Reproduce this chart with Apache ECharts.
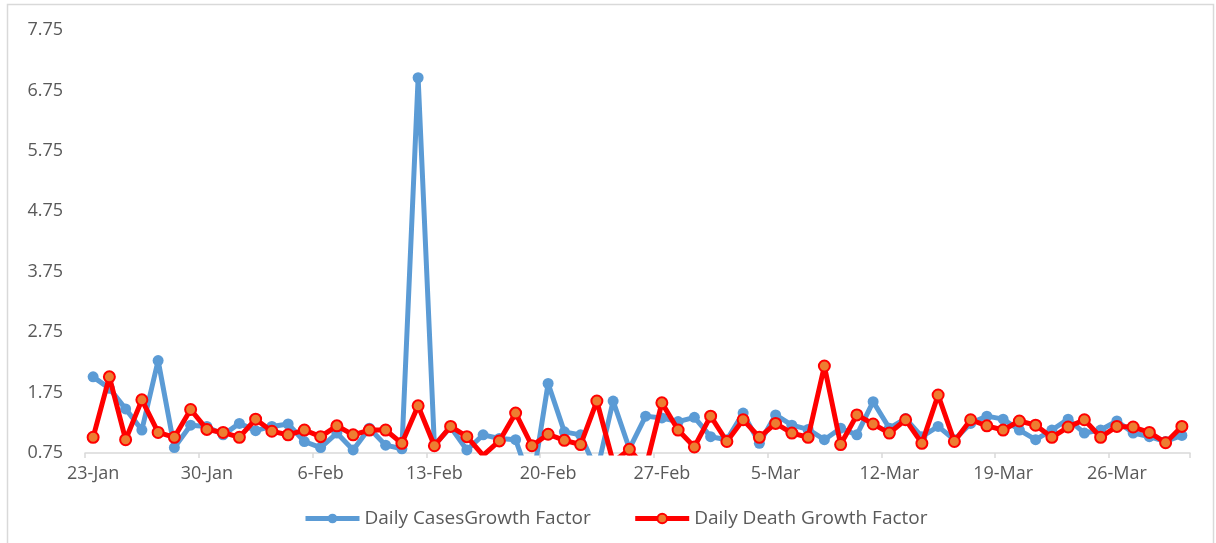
<!DOCTYPE html>
<html>
<head>
<meta charset="utf-8">
<script src="https://cdn.jsdelivr.net/npm/echarts@6/dist/echarts.min.js"></script>
<style>
html,body{margin:0;padding:0;background:#fff;}
#chart{width:1216px;height:543px;}
</style>
</head>
<body>
<div id="chart"></div>
<script>
const categories = [
  "23-Jan","24-Jan","25-Jan","26-Jan","27-Jan","28-Jan","29-Jan","30-Jan","31-Jan",
  "1-Feb","2-Feb","3-Feb","4-Feb","5-Feb","6-Feb","7-Feb","8-Feb","9-Feb","10-Feb",
  "11-Feb","12-Feb","13-Feb","14-Feb","15-Feb","16-Feb","17-Feb","18-Feb","19-Feb",
  "20-Feb","21-Feb","22-Feb","23-Feb","24-Feb","25-Feb","26-Feb","27-Feb","28-Feb",
  "29-Feb","1-Mar","2-Mar","3-Mar","4-Mar","5-Mar","6-Mar","7-Mar","8-Mar","9-Mar",
  "10-Mar","11-Mar","12-Mar","13-Mar","14-Mar","15-Mar","16-Mar","17-Mar","18-Mar",
  "19-Mar","20-Mar","21-Mar","22-Mar","23-Mar","24-Mar","25-Mar","26-Mar","27-Mar",
  "28-Mar","29-Mar","30-Mar"
];

const casesGrowth = [
  2.01,1.82,1.48,1.13,2.28,0.84,1.21,1.19,1.05,
  1.24,1.12,1.19,1.23,0.94,0.84,1.08,0.80,1.16,0.88,
  0.82,6.96,0.88,1.18,0.80,1.05,0.99,0.97,0.20,
  1.90,1.10,1.05,0.44,1.61,0.82,1.36,1.33,1.27,
  1.34,1.02,0.97,1.41,0.91,1.38,1.21,1.14,0.97,1.16,
  1.05,1.60,1.16,1.32,1.02,1.19,0.97,1.24,1.36,
  1.31,1.13,0.97,1.13,1.31,1.08,1.13,1.28,1.08,
  1.02,0.94,1.04
];

const deathGrowth = [
  1.01,2.01,0.97,1.63,1.09,1.01,1.47,1.14,1.09,
  1.01,1.31,1.11,1.05,1.13,1.02,1.20,1.05,1.13,1.13,
  0.91,1.53,0.87,1.19,1.02,0.71,0.95,1.41,0.87,
  1.06,0.96,0.89,1.61,0.60,0.81,0.50,1.58,1.13,
  0.85,1.36,0.94,1.30,1.01,1.24,1.08,1.01,2.19,0.89,
  1.38,1.23,1.08,1.30,0.91,1.71,0.94,1.30,1.20,
  1.13,1.28,1.21,1.01,1.18,1.30,1.01,1.19,1.18,
  1.09,0.92,1.19
];

const yTicks = [0.75,1.75,2.75,3.75,4.75,5.75,6.75,7.75];

const seriesNames = ["Daily CasesGrowth Factor","Daily Death Growth Factor"];

const chart = echarts.init(document.getElementById('chart'));
const font = "'Open Sans', sans-serif";
chart.setOption({
  animation: false,
  backgroundColor: '#ffffff',
  graphic: [{
    type: 'rect',
    silent: true,
    shape: {x: 7.5, y: 4.5, width: 1206, height: 600},
    style: {fill: 'none', stroke: '#D9D9D9', lineWidth: 1.5}
  }],
  grid: {left: 85, right: 26, top: 30, bottom: 90, containLabel: false},
  legend: {
    left: 298,
    bottom: 10,
    itemWidth: 54,
    itemHeight: 12,
    itemGap: 42,
    lineStyle: {width: 5},
    textStyle: {fontFamily: font, fontSize: 19, color: '#595959'},
    data: seriesNames
  },
  xAxis: {
    type: 'category',
    data: categories,
    boundaryGap: true,
    axisLine: {show: true, lineStyle: {color: '#D9D9D9', width: 1.5}},
    axisTick: {show: true, interval: 6, length: 5, alignWithLabel: false, lineStyle: {color: '#D9D9D9', width: 1.5}},
    axisLabel: {interval: 6, margin: 12, fontFamily: font, fontSize: 18, color: '#595959'},
    splitLine: {show: false}
  },
  yAxis: {
    type: 'value',
    min: 0.75,
    max: 7.75,
    axisLine: {show: false},
    axisTick: {show: false},
    splitLine: {show: false},
    axisLabel: {
      customValues: yTicks,
      margin: 22,
      fontFamily: font, fontSize: 18, color: '#595959',
      formatter: v => Number(v).toFixed(2)
    }
  },
  series: [
    {
      name: seriesNames[0],
      type: 'line',
      data: casesGrowth,
      symbol: 'circle',
      symbolSize: 11,
      showSymbol: true,
      showAllSymbol: true,
      clip: true,
      z: 2,
      lineStyle: {color: '#5B9BD5', width: 5},
      itemStyle: {color: '#5B9BD5', borderColor: '#5B9BD5', borderWidth: 0},
      emphasis: {disabled: true}
    },
    {
      name: seriesNames[1],
      type: 'line',
      data: deathGrowth,
      symbol: 'circle',
      symbolSize: 11,
      showSymbol: true,
      showAllSymbol: true,
      clip: true,
      z: 3,
      lineStyle: {color: '#FF0000', width: 5},
      itemStyle: {color: '#ED7D31', borderColor: '#FF0000', borderWidth: 2},
      emphasis: {disabled: true}
    }
  ]
});
</script>
</body>
</html>
